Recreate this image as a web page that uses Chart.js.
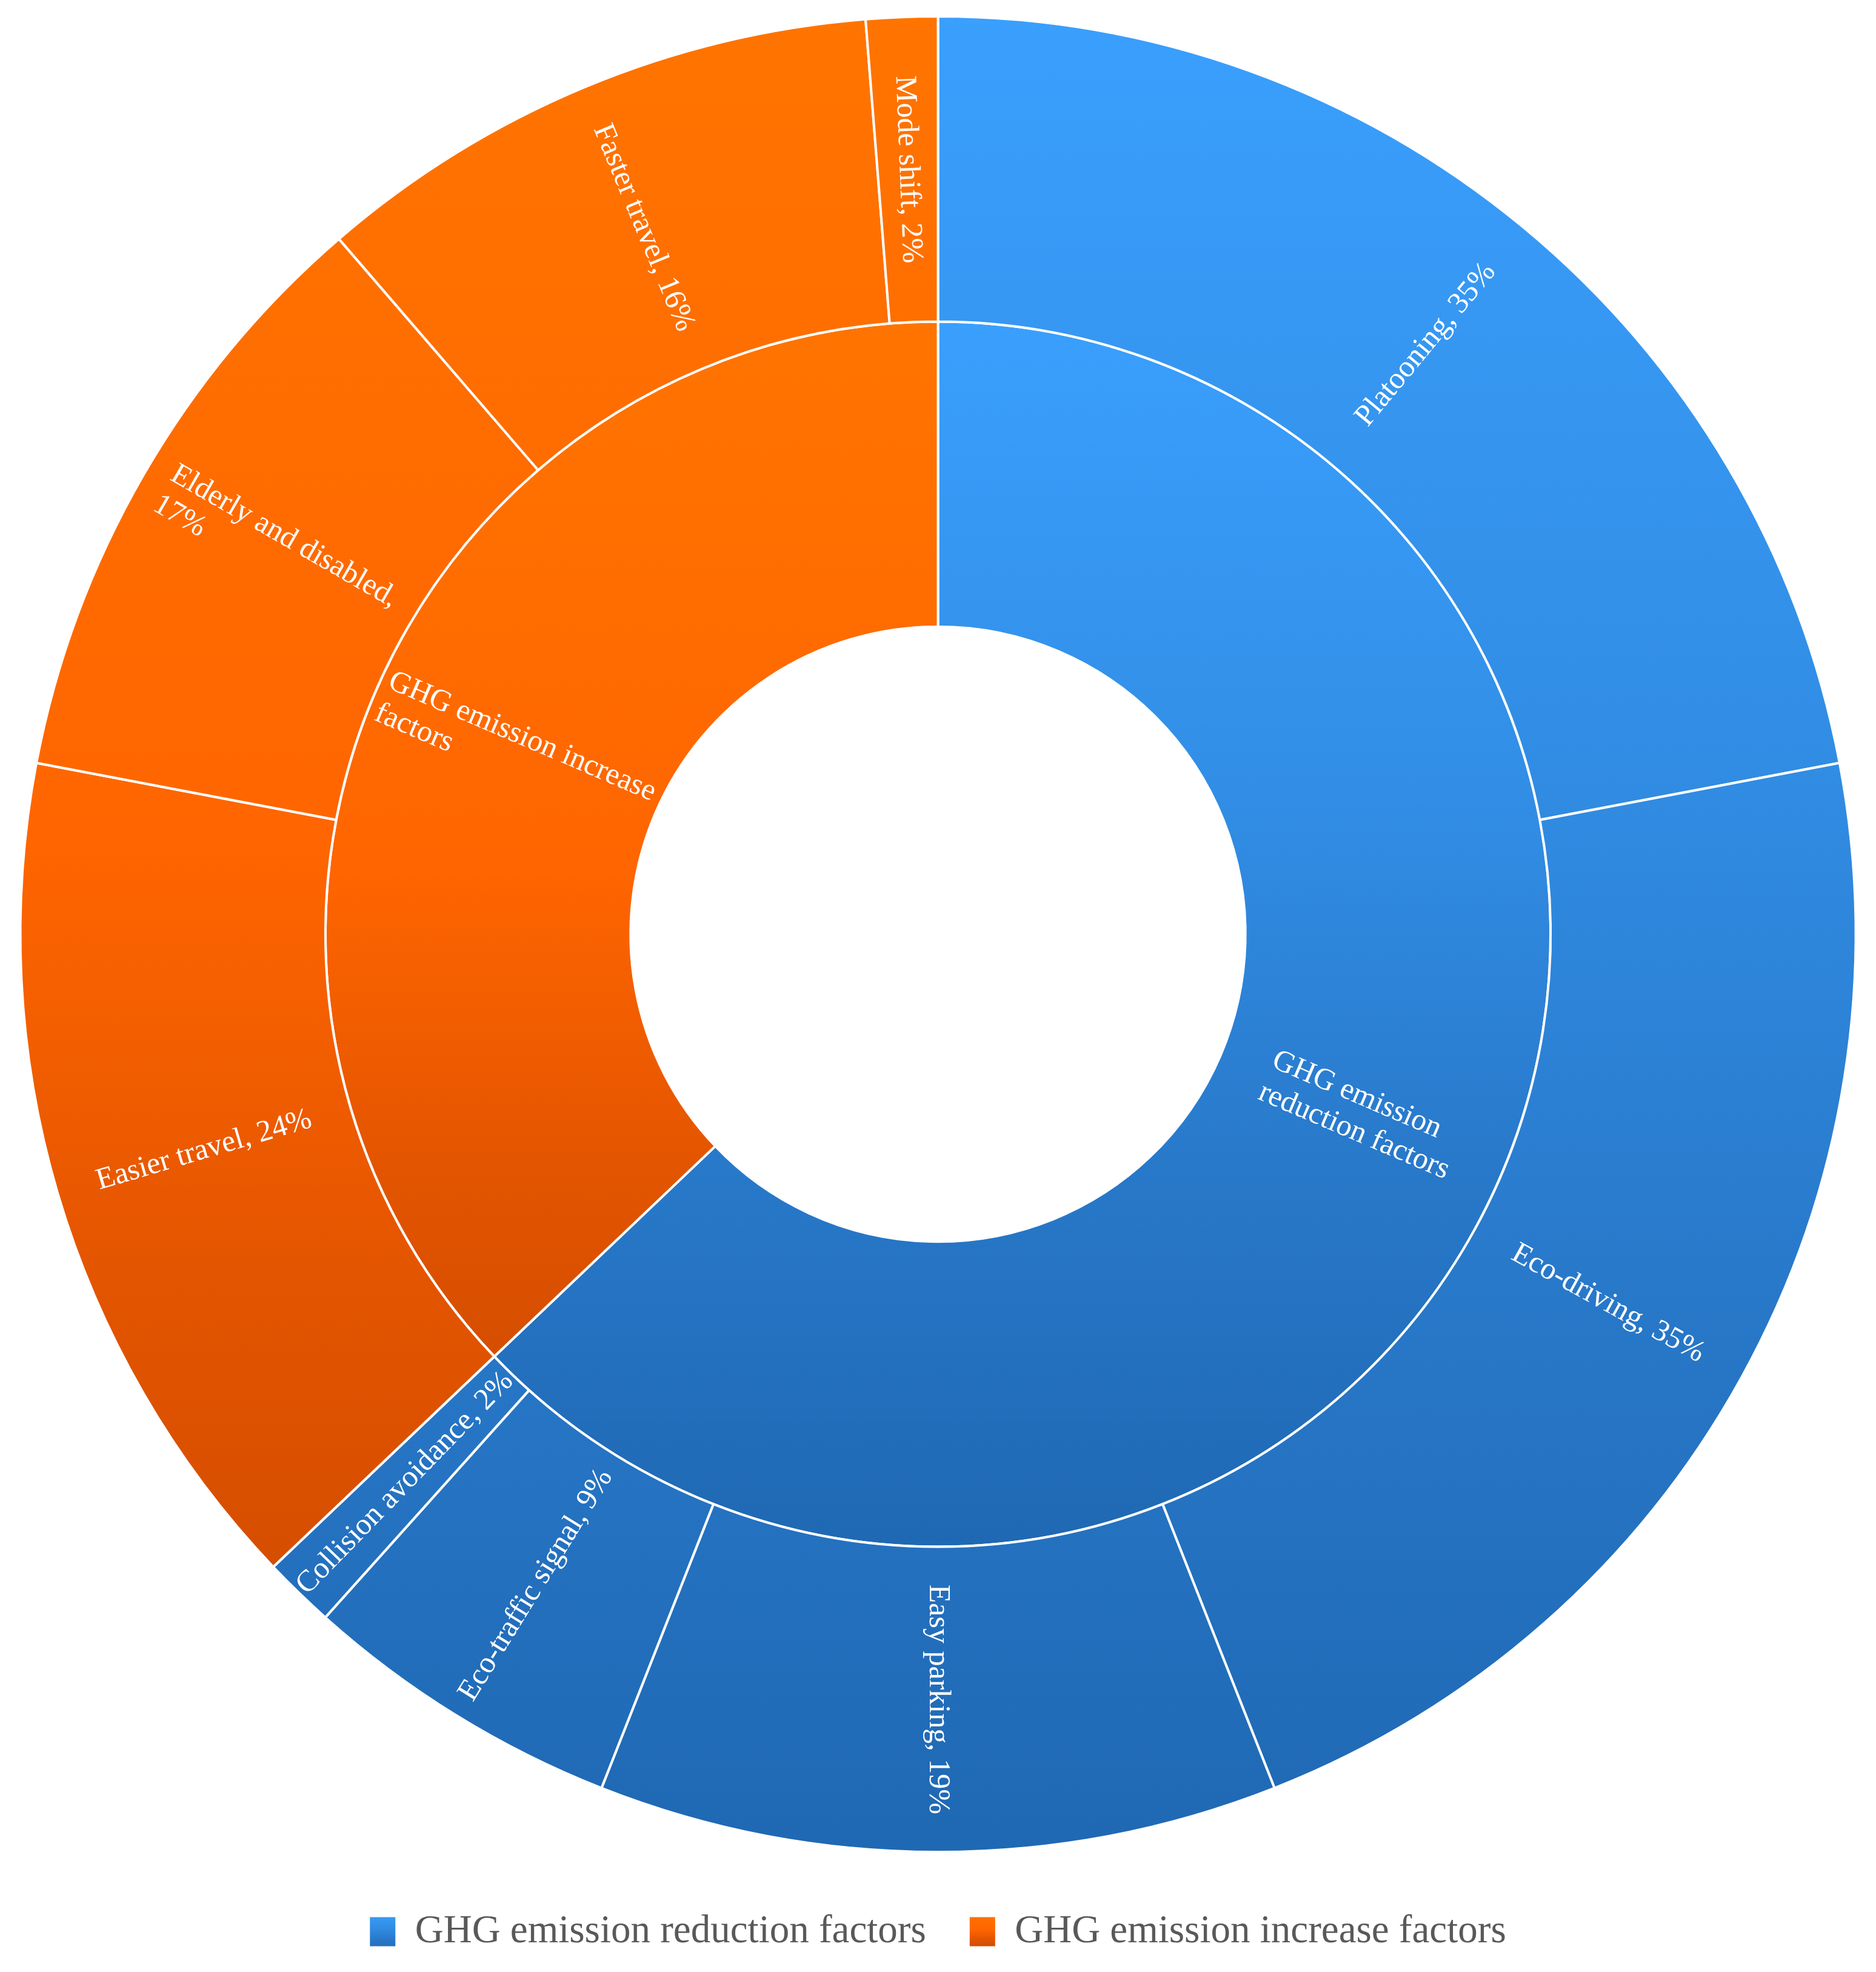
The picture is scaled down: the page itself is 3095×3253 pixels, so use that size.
<!DOCTYPE html>
<html>
<head>
<meta charset="utf-8">
<title>GHG emission factors</title>
<script src="https://cdn.jsdelivr.net/npm/chart.js@4.4.1/dist/chart.umd.min.js"></script>
<style>
  html, body { margin: 0; padding: 0; background: #fff; }
  #wrap { width: 3095px; height: 3253px; }
</style>
</head>
<body>
<div id="wrap"><canvas id="chart"></canvas></div>
<script>
// inner ring
const groups = ["GHG emission reduction factors", "GHG emission increase factors"];

// outer ring
const factors = [
  "Platooning", "Eco-driving", "Easy parking", "Eco-traffic signal", "Collision avoidance",
  "Easier travel", "Elderly and disabled", "Faster travel", "Mode shift"
];
const factorShares = [35, 35, 19, 9, 2, 24, 17, 16, 2];
const factorGroup = [0, 0, 0, 0, 0, 1, 1, 1, 1];

// parent ring = sum of its children
const groupTotals = groups.map((g, gi) =>
  factorShares.reduce((s, v, i) => (factorGroup[i] === gi ? s + v : s), 0)
);

const factorTexts = factors.map((f, i) => `${f}, ${factorShares[i]}%`);
const ringTexts = [factorTexts, groups];

const FONT = "'Liberation Serif', 'Times New Roman', serif";

const blueStops = [[0, "#3A9FFD"], [0.4, "#318DE4"], [0.7, "#2878C9"], [1, "#1F68B3"]];
const orangeStops = [[0, "#FF7400"], [0.45, "#FF6500"], [0.7, "#E25400"], [1, "#C84700"]];
const groupStops = [blueStops, orangeStops];

// vertical gradient over the whole ring the arc belongs to
function ringFill(c, stops) {
  const chart = c.chart;
  const area = chart.chartArea;
  if (!area) return stops[1][1];
  const ctrl = chart.getDatasetMeta(c.datasetIndex).controller;
  const r = ctrl && ctrl.outerRadius;
  if (!r) return stops[1][1];
  const cy = (area.top + area.bottom) / 2;
  const g = chart.ctx.createLinearGradient(0, cy - r, 0, cy + r);
  stops.forEach(([o, col]) => g.addColorStop(o, col));
  return g;
}

function wrapText(ctx, text, maxWidth) {
  const words = text.split(" ");
  const lines = [];
  let line = "";
  words.forEach(w => {
    const test = line ? line + " " + w : w;
    if (line && ctx.measureText(test).width > maxWidth) {
      lines.push(line);
      line = w;
    } else {
      line = test;
    }
  });
  if (line) lines.push(line);
  return lines;
}

const sunburstLabels = {
  id: "sunburstLabels",
  beforeDraw(chart) {
    // gradient legend boxes, like the segments
    const legend = chart.legend;
    if (!legend || !legend.legendItems) return;
    legend.legendItems.forEach((item, i) => {
      const hb = legend.legendHitBoxes[i];
      if (!hb) return;
      const g = chart.ctx.createLinearGradient(0, hb.top, 0, hb.top + hb.height);
      groupStops[i].forEach(([o, col]) => g.addColorStop(o, col));
      item.fillStyle = g;
    });
  },
  afterDatasetsDraw(chart, args, opts) {
    const ctx = chart.ctx;
    ctx.save();
    ctx.font = `${opts.size}px ${FONT}`;
    ctx.fillStyle = opts.color;
    ctx.textBaseline = "middle";
    ctx.textAlign = "left";
    const lh = opts.size * opts.lineHeight;

    chart.data.datasets.forEach((ds, di) => {
      const meta = chart.getDatasetMeta(di);
      meta.data.forEach((arc, i) => {
        const p = arc.getProps(["x", "y", "startAngle", "endAngle", "innerRadius", "outerRadius"], true);
        const mid = (p.startAngle + p.endAngle) / 2;
        const r = (p.innerRadius + p.outerRadius) / 2;
        let theta = (mid + Math.PI / 2) % (2 * Math.PI);
        if (theta < 0) theta += 2 * Math.PI;
        // right half reads outward, left half reads inward
        const rot = theta > Math.PI + 1e-6 ? mid + Math.PI : mid;

        const lines = wrapText(ctx, ringTexts[di][i], opts.wrapWidth[di]);
        const w = Math.max(...lines.map(l => ctx.measureText(l).width));
        const h = lines.length * lh;

        ctx.save();
        ctx.translate(p.x + r * Math.cos(mid), p.y + r * Math.sin(mid));
        ctx.rotate(rot);
        lines.forEach((l, k) => ctx.fillText(l, -w / 2, -h / 2 + lh * (k + 0.5)));
        ctx.restore();
      });
    });
    ctx.restore();
  }
};

new Chart(document.getElementById("chart"), {
  type: "doughnut",
  data: {
    labels: factors,
    datasets: [
      {
        label: "Factors",
        data: factorShares,
        backgroundColor: c => ringFill(c, groupStops[factorGroup[c.dataIndex]])
      },
      {
        label: "Groups",
        data: groupTotals,
        backgroundColor: c => ringFill(c, groupStops[c.dataIndex])
      }
    ]
  },
  options: {
    responsive: true,
    maintainAspectRatio: false,
    animation: false,
    events: [],
    cutout: "33.5%",
    layout: { padding: { top: 0, left: 31.5, right: 31.5, bottom: 24 } },
    elements: {
      arc: { borderColor: "#ffffff", borderWidth: 4 }
    },
    plugins: {
      tooltip: { enabled: false },
      legend: {
        position: "bottom",
        labels: {
          color: "#595959",
          font: { family: FONT, size: 65 },
          boxWidth: 42,
          boxHeight: 48,
          padding: 72,
          generateLabels: () => groups.map((g, i) => ({
            text: g,
            fillStyle: groupStops[i][1][1],
            strokeStyle: "rgba(0,0,0,0)",
            lineWidth: 0,
            fontColor: "#595959",
            hidden: false,
            index: i
          }))
        }
      },
      sunburstLabels: {
        size: 50,
        lineHeight: 1.15,
        color: "#ffffff",
        wrapWidth: [510, 488]
      }
    }
  },
  plugins: [sunburstLabels]
});
</script>
</body>
</html>
